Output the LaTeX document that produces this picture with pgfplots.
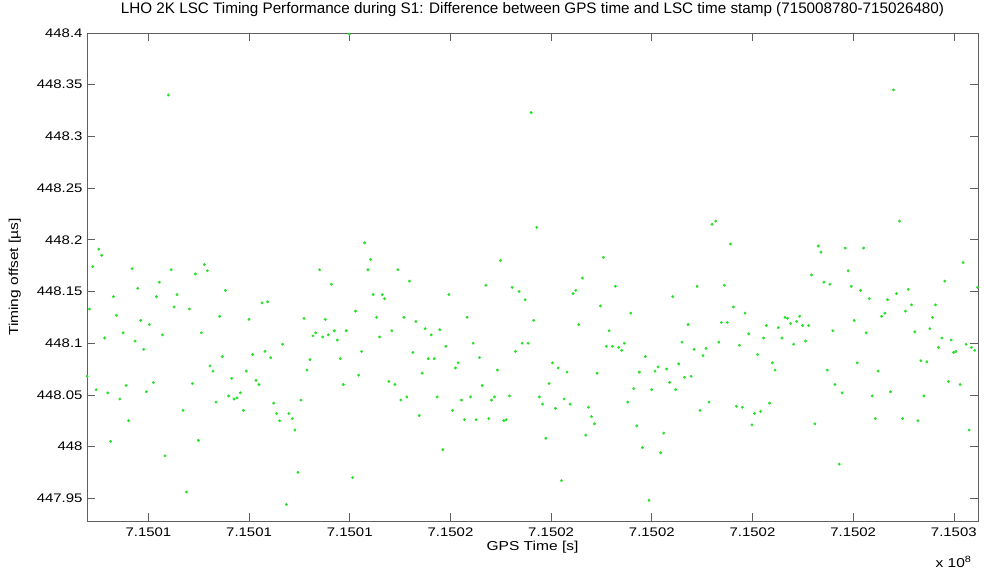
\documentclass[border=0pt]{standalone}
\usepackage{fontspec}
\setmainfont{Liberation Sans}[FakeStretch=1.2]
\newfontfamily\titlefont{Liberation Sans}
\usepackage{pgfplots}
\usepackage{pgfplotstable}
\pgfplotsset{compat=1.18}

\definecolor{ptgreen}{RGB}{40,225,40}
\definecolor{axgray}{RGB}{95,95,95}

% GPS time [s], timing offset [us]
\pgfplotstableread{
t y
715008782 448.068
715008828 448.133
715008895 448.174
715008961 448.055
715009014 448.191
715009073 448.185
715009133 448.105
715009192 448.052
715009245 448.005
715009305 448.145
715009364 448.127
715009431 448.046
715009497 448.110
715009556 448.059
715009609 448.025
715009675 448.172
715009735 448.102
715009788 448.153
715009847 448.122
715009907 448.094
715009960 448.053
715010019 448.118
715010099 448.062
715010158 448.145
715010218 448.159
715010278 448.108
715010330 447.991
715010397 448.340
715010450 448.171
715010509 448.135
715010569 448.147
715010628 447.927
715010688 448.035
715010754 447.956
715010814 448.133
715010873 448.061
715010933 448.167
715010992 448.006
715011052 448.110
715011111 448.176
715011171 448.170
715011224 448.078
715011283 448.073
715011343 448.043
715011416 448.126
715011469 448.087
715011528 448.151
715011594 448.049
715011654 448.066
715011700 448.046
715011760 448.047
715011826 448.052
715011886 448.035
715011945 448.073
715011998 448.123
715012071 448.089
715012137 448.064
715012197 448.060
715012256 448.139
715012316 448.092
715012369 448.140
715012428 448.086
715012488 448.042
715012548 448.032
715012607 448.025
715012667 448.099
715012739 447.944
715012792 448.032
715012859 448.027
715012911 448.016
715012971 447.975
715013031 448.045
715013090 448.124
715013150 448.074
715013209 448.084
715013269 448.107
715013322 448.110
715013401 448.171
715013461 448.106
715013514 448.123
715013573 448.108
715013633 448.157
715013692 448.112
715013752 448.103
715013811 448.085
715013871 448.060
715013930 448.112
715013990 448.399
715014056 447.970
715014116 448.131
715014175 448.069
715014235 448.092
715014294 448.197
715014361 448.171
715014414 448.181
715014466 448.147
715014533 448.125
715014592 448.106
715014645 448.147
715014691 448.143
715014777 448.063
715014836 448.112
715014896 448.060
715014955 448.171
715015015 448.045
715015075 448.125
715015134 448.048
715015187 448.160
715015253 448.091
715015313 448.121
715015379 448.030
715015438 448.071
715015498 448.114
715015558 448.085
715015617 448.108
715015677 448.085
715015736 448.048
715015789 448.113
715015849 447.997
715015908 448.097
715015968 448.147
715016041 448.035
715016100 448.076
715016153 448.081
715016219 448.045
715016279 448.026
715016332 448.125
715016398 448.048
715016451 448.100
715016510 448.026
715016577 448.086
715016630 448.059
715016702 448.156
715016762 448.027
715016815 448.045
715016874 448.048
715016934 448.074
715016994 448.180
715017060 448.025
715017106 448.026
715017172 448.049
715017225 448.154
715017291 448.092
715017364 448.150
715017424 448.100
715017483 448.142
715017543 448.100
715017603 448.323
715017655 448.122
715017715 448.212
715017768 448.048
715017828 448.041
715017894 448.008
715017960 448.061
715018026 448.081
715018086 448.037
715018139 448.076
715018205 447.967
715018258 448.046
715018317 448.072
715018377 448.041
715018436 448.148
715018489 448.151
715018549 448.118
715018622 448.163
715018688 448.011
715018741 448.038
715018800 448.029
715018860 448.022
715018913 448.071
715018979 448.136
715019038 448.183
715019098 448.097
715019151 448.112
715019217 448.097
715019277 448.155
715019343 448.096
715019402 448.093
715019455 448.100
715019522 448.043
715019581 448.129
715019641 448.056
715019700 448.020
715019753 448.072
715019813 447.999
715019872 448.087
715019945 447.948
715019998 448.055
715020064 448.073
715020124 448.077
715020177 447.994
715020236 448.013
715020296 448.075
715020355 448.062
715020415 448.145
715020474 448.055
715020534 448.080
715020600 448.101
715020646 448.067
715020720 448.118
715020779 448.068
715020839 448.094
715020898 448.155
715020958 448.035
715021017 448.088
715021077 448.095
715021136 448.043
715021196 448.215
715021269 448.218
715021328 448.101
715021381 448.120
715021441 448.156
715021500 448.120
715021560 448.196
715021619 448.135
715021679 448.039
715021739 448.098
715021798 448.038
715021851 448.129
715021924 448.109
715021990 448.021
715022043 448.032
715022103 448.089
715022162 448.034
715022222 448.105
715022275 448.117
715022341 448.042
715022394 448.081
715022447 448.074
715022513 448.115
715022586 448.105
715022645 448.125
715022698 448.124
715022758 448.119
715022817 448.099
715022877 448.121
715022936 448.126
715022996 448.117
715023055 448.102
715023115 448.117
715023174 448.166
715023241 448.022
715023307 448.194
715023360 448.188
715023419 448.159
715023485 448.074
715023538 448.157
715023598 448.112
715023638 448.060
715023723 447.983
715023783 448.052
715023842 448.192
715023902 448.170
715023961 448.155
715024021 448.122
715024080 448.081
715024147 448.151
715024206 448.192
715024259 448.110
715024319 448.143
715024378 448.049
715024438 448.027
715024497 448.073
715024563 448.126
715024630 448.129
715024682 448.142
715024742 448.053
715024800 448.345
715024861 448.148
715024921 448.218
715024980 448.027
715025040 448.131
715025093 448.152
715025159 448.137
715025225 448.111
715025285 448.025
715025344 448.083
715025404 448.049
715025463 448.082
715025523 448.114
715025576 448.125
715025635 448.137
715025695 448.096
715025761 448.105
715025821 448.160
715025893 448.063
715025946 448.103
715025993 448.091
715026039 448.092
715026125 448.060
715026185 448.178
715026244 448.099
715026304 448.016
715026350 448.096
715026416 448.093
715026470 448.154
}\gpsdata

\begin{document}
\begin{tikzpicture}
\useasboundingbox (-87bp,-55bp) rectangle (897bp,521bp);
\begin{axis}[
    name=ax,
    width=891bp, height=488bp, scale only axis,
    xmin=715008780, xmax=715026480,
    ymin=447.928, ymax=448.4,
    scaled x ticks=false, scaled y ticks=false,
    xtick={715010000,715012000,715014000,715016000,715018000,715020000,715022000,715024000,715026000},
    xticklabels={7.1501,7.1501,7.1501,7.1502,7.1502,7.1502,7.1502,7.1502,7.1503},
    ytick={447.95,448,448.05,448.1,448.15,448.2,448.25,448.3,448.35,448.4},
    yticklabels={447.95,448,448.05,448.1,448.15,448.2,448.25,448.3,448.35,448.4},
    xtick pos=both, ytick pos=both,
    tick align=inside,
    major tick length=8.5bp,
    axis line style={axgray, line width=0.8bp},
    tick style={axgray, line width=0.6bp},
    tick label style={font=\fontsize{12.5}{14}\selectfont},
    yticklabel style={xshift=-1bp},
    xticklabel style={yshift=-3bp},
    title={LHO 2K LSC Timing Performance during S1: Difference between GPS time and LSC time stamp (715008780-715026480)},
    title style={font=\titlefont\fontsize{15.3}{17}\selectfont, at={(axis description cs:0.5,1)}, anchor=base, yshift=14bp},
    xlabel={GPS Time [s]},
    xlabel style={font=\fontsize{13}{15}\selectfont, at={(axis description cs:0.5,0)}, anchor=base, yshift=-29bp},
    ylabel={Timing offset [µs]},
    ylabel style={font=\fontsize{13}{15}\selectfont, at={(axis description cs:-0.081,0.5)}, anchor=center},
]
\addplot[only marks, mark=*, color=ptgreen, mark size=1.25bp]
    table[x=t, y=y] {\gpsdata};
\end{axis}
\node[anchor=base east, font=\fontsize{13}{15}\selectfont] at ([xshift=-3bp, yshift=-46bp]ax.south east) {x 10\textsuperscript{8}};
\end{tikzpicture}
\end{document}
